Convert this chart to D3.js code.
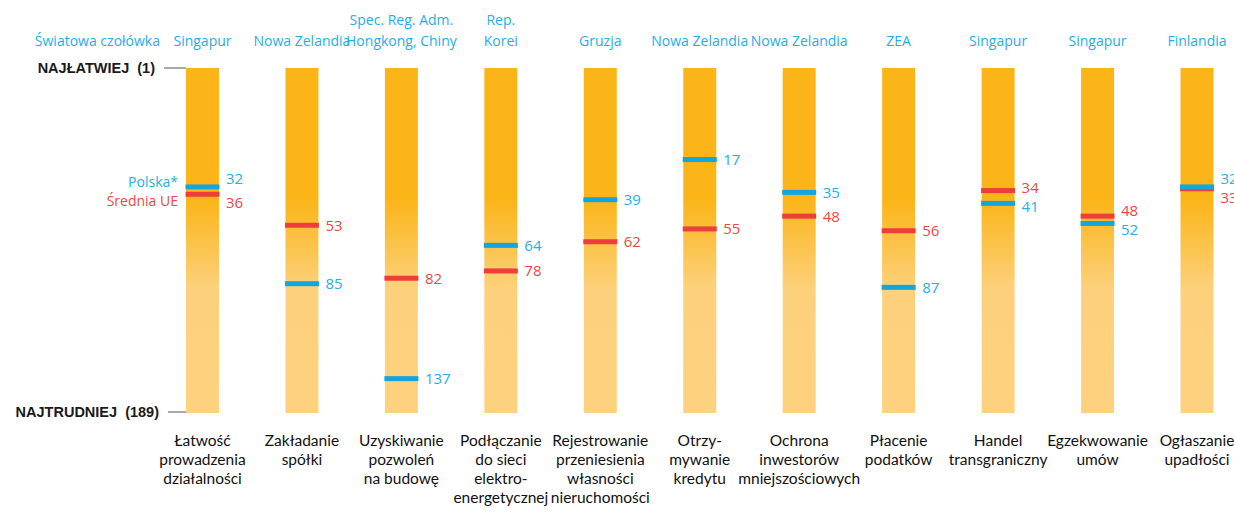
<!DOCTYPE html>
<html>
<head>
<meta charset="utf-8">
<script src="https://cdn.jsdelivr.net/npm/d3@7"></script>
<style>
  html, body { margin: 0; padding: 0; background: #fff; }
  svg text { white-space: pre; }
</style>
</head>
<body>
<svg id="chart" width="1234" height="512"></svg>
<script>
// indicators (bottom labels, one entry per line)
const categories = [
  ['Łatwość', 'prowadzenia', 'działalności'],
  ['Zakładanie', 'spółki'],
  ['Uzyskiwanie', 'pozwoleń', 'na budowę'],
  ['Podłączanie', 'do sieci', 'elektro-', 'energetycznej'],
  ['Rejestrowanie', 'przeniesienia', 'własności', 'nieruchomości'],
  ['Otrzy-', 'mywanie', 'kredytu'],
  ['Ochrona', 'inwestorów', 'mniejszościowych'],
  ['Płacenie', 'podatków'],
  ['Handel', 'transgraniczny'],
  ['Egzekwowanie', 'umów'],
  ['Ogłaszanie', 'upadłości']
];
// world leader per indicator
const leaders = [
  ['Singapur'], ['Nowa Zelandia'], ['Spec. Reg. Adm.', 'Hongkong, Chiny'], ['Rep.', 'Korei'],
  ['Gruzja'], ['Nowa Zelandia'], ['Nowa Zelandia'], ['ZEA'], ['Singapur'], ['Singapur'], ['Finlandia']
];
const poland = [32, 85, 137, 64, 39, 17, 35, 87, 41, 52, 32];
const euAvg  = [36, 53, 82, 78, 62, 55, 48, 56, 34, 48, 33];

const BLUE = '#12a6de', RED = '#ee3d3d', TXT_BLUE = '#27aee6', TXT_RED = '#ec4848';

const svg = d3.select('#chart');
const defs = svg.append('defs');
const grad = defs.append('linearGradient').attr('id', 'barGrad')
  .attr('x1', 0).attr('y1', 0).attr('x2', 0).attr('y2', 1);
grad.append('stop').attr('offset', '0%').attr('stop-color', '#fbb518');
grad.append('stop').attr('offset', '38%').attr('stop-color', '#fbb518');
grad.append('stop').attr('offset', '64%').attr('stop-color', '#fdd17c');
grad.append('stop').attr('offset', '100%').attr('stop-color', '#fdd27e');

// column centres
const x = d3.scalePoint().domain(d3.range(categories.length)).range([202.5, 1197]);
const barW = 33;
const barTop = 68, barBottom = 413;
// rank scale as drawn in the source (markers do not follow the axis labels exactly)
const y = d3.scaleLinear().domain([0, 189]).range([128.5, 473.6]);

const cols = svg.append('g');
categories.forEach((cat, i) => {
  const cx = x(i);
  const x0 = cx - barW / 2;
  const g = cols.append('g');
  g.append('rect').attr('x', x0).attr('y', barTop).attr('width', barW)
    .attr('height', barBottom - barTop).attr('fill', 'url(#barGrad)');

  // markers: EU first, Poland on top
  const marks = [
    { v: euAvg[i], c: RED, t: TXT_RED },
    { v: poland[i], c: BLUE, t: TXT_BLUE }
  ];
  marks.forEach(m => {
    g.append('rect').attr('x', x0 - 0.5).attr('y', y(m.v) - 2.5)
      .attr('width', barW + 1).attr('height', 5).attr('fill', m.c);
  });

  // value labels, pushed apart when too close
  const sorted = marks.slice().sort((a, b) => a.v - b.v);
  let ya = y(sorted[0].v), yb = y(sorted[1].v);
  const minSep = i === 0 ? 24 : 19;
  if (yb - ya < minSep) {
    const mid = (ya + yb) / 2;
    ya = mid - minSep / 2; yb = mid + minSep / 2;
  }
  [[sorted[0], ya], [sorted[1], yb]].forEach(([m, ly]) => {
    g.append('text').attr('x', x0 + barW + 7).attr('y', ly + 5.5)
      .attr('font-family', 'Open Sans').attr('font-size', 15)
      .attr('fill', m.t).text(m.v);
  });

  // leader label at the top
  const lt = g.append('text').attr('text-anchor', 'middle')
    .attr('font-family', 'Open Sans').attr('font-size', 14).attr('fill', TXT_BLUE);
  leaders[i].forEach((s, k) => {
    lt.append('tspan').attr('x', cx)
      .attr('y', 46 - (leaders[i].length - 1 - k) * 21).text(s);
  });

  // indicator name at the bottom
  const bt = g.append('text').attr('text-anchor', 'middle')
    .attr('font-family', 'Lato').attr('font-size', 15.5).attr('fill', '#111');
  cat.forEach((s, k) => {
    bt.append('tspan').attr('x', cx).attr('y', 446 + k * 19).text(s);
  });
});

// left side labels
svg.append('text').attr('x', 160).attr('y', 46).attr('text-anchor', 'end')
  .attr('font-family', 'Open Sans').attr('font-size', 14).attr('fill', TXT_BLUE)
  .text('Światowa czołówka');
svg.append('text').attr('x', 178).attr('y', 187).attr('text-anchor', 'end')
  .attr('font-family', 'Open Sans').attr('font-size', 14).attr('fill', TXT_BLUE)
  .text('Polska*');
svg.append('text').attr('x', 178).attr('y', 206).attr('text-anchor', 'end')
  .attr('font-family', 'Open Sans').attr('font-size', 14).attr('fill', TXT_RED)
  .text('Średnia UE');

const axisLab = [['NAJŁATWIEJ  (1)', barTop, 155], ['NAJTRUDNIEJ  (189)', barBottom - 1, 159]];
axisLab.forEach(([s, yy, xr]) => {
  svg.append('text').attr('x', xr).attr('y', yy + 5).attr('text-anchor', 'end')
    .attr('font-family', 'Liberation Sans').attr('font-weight', 'bold')
    .attr('font-size', 14.5).attr('fill', '#1a1a1a').text(s);
  svg.append('line').attr('x1', xr + 9).attr('x2', 186).attr('y1', yy).attr('y2', yy)
    .attr('stroke', '#555').attr('stroke-width', 1);
});
</script>
</body>
</html>
